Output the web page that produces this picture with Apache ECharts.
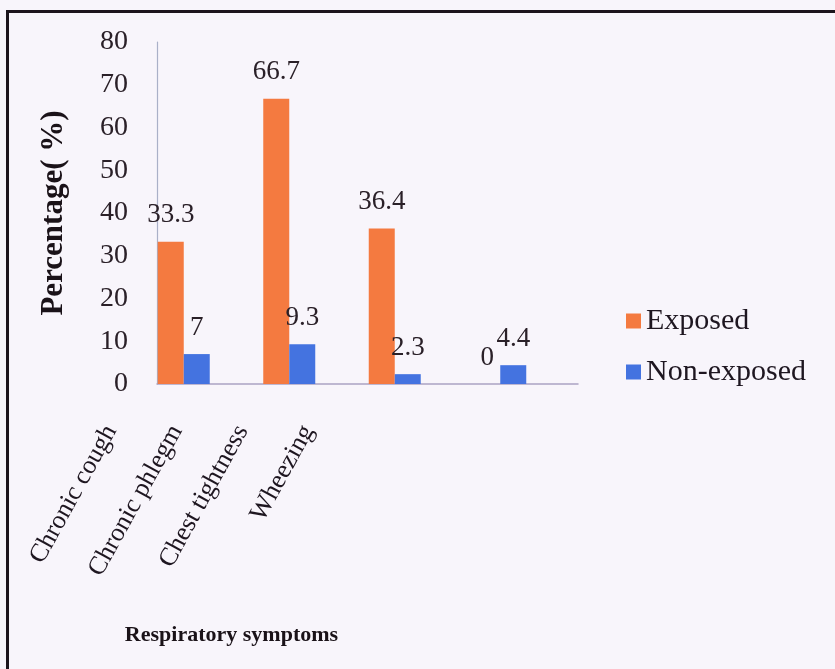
<!DOCTYPE html>
<html>
<head>
<meta charset="utf-8">
<script src="https://cdn.jsdelivr.net/npm/echarts@6/dist/echarts.min.js"></script>
<style>
  html, body { margin: 0; padding: 0; background: #f8f5fb; }
  #main { width: 835px; height: 669px; }
  .frame { position: absolute; left: 6px; top: 10px; width: 840px; height: 680px; border: 3px solid #1c141c; box-sizing: border-box; pointer-events: none; }
</style>
</head>
<body>
<div id="main"></div>
<div class="frame"></div>
<script>
var categories = ['Chronic cough', 'Chronic phlegm', 'Chest tightness', 'Wheezing']
var exposed = [33.3, 66.7, 36.4, 0]
var nonExposed = [7, 9.3, 2.3, 4.4]
var yTicks = [0, 10, 20, 30, 40, 50, 60, 70, 80]

var serif = 'Liberation Serif'
var labelStyle = {
  show: true,
  position: 'top',
  distance: 13,
  color: '#2a2028',
  fontFamily: serif,
  fontSize: 27
}

var chart = echarts.init(document.getElementById('main'))
var option = {
  backgroundColor: '#f8f5fb',
  animation: false,
  legend: {
    orient: 'vertical',
    left: 621,
    top: 301,
    itemWidth: 15,
    itemHeight: 15,
    itemGap: 21,
    icon: 'rect',
    textStyle: { fontFamily: serif, fontSize: 30, color: '#1e1620' },
    data: ['Exposed', 'Non-exposed']
  },
  grid: [
    // bars
    { left: 131, top: 42, width: 422, height: 342 },
    // axis lines and tick labels
    { left: 157, top: 42, width: 421, height: 342 },
    // category names (squeezed as in the scan)
    { left: 78, top: 42, width: 263, height: 342 }
  ],
  xAxis: [
    {
      type: 'category', gridIndex: 0, data: categories,
      axisLine: { show: false }, axisTick: { show: false }, axisLabel: { show: false }
    },
    {
      type: 'category', gridIndex: 1, data: categories,
      axisLine: { show: true, lineStyle: { color: '#aaa3c4', width: 1.5 } },
      axisTick: { show: false }, axisLabel: { show: false }
    },
    {
      type: 'category', gridIndex: 2, data: categories,
      axisLine: { show: false }, axisTick: { show: false },
      axisLabel: {
        rotate: 61, margin: 43, interval: 0,
        fontFamily: serif, fontSize: 26, color: '#1e1620'
      },
      name: 'Respiratory symptoms',
      nameLocation: 'middle',
      nameGap: 240,
      nameTextStyle: { fontFamily: serif, fontWeight: 'bold', fontSize: 22, color: '#1a1218', padding: [0, 0, 0, 44] }
    }
  ],
  yAxis: [
    { type: 'value', gridIndex: 0, min: 0, max: 80, interval: 10, show: false },
    {
      type: 'value', gridIndex: 1, min: 0, max: 80, interval: 10,
      axisLine: { show: true, lineStyle: { color: '#aab0c8', width: 1.2 } },
      axisTick: { show: false },
      splitLine: { show: false },
      axisLabel: {
        margin: 29, fontFamily: serif, fontSize: 28, color: '#2a2028',
        formatter: function (v) { return yTicks.indexOf(v) >= 0 ? String(v) : '' }
      },
      name: 'Percentage( %)',
      nameLocation: 'middle',
      nameGap: 88,
      nameTextStyle: { fontFamily: serif, fontWeight: 'bold', fontSize: 31, color: '#1a1218' }
    },
    { type: 'value', gridIndex: 2, min: 0, max: 80, show: false }
  ],
  series: [
    {
      name: 'Exposed', type: 'bar', xAxisIndex: 0, yAxisIndex: 0,
      data: exposed, barWidth: 26, barGap: '0%',
      itemStyle: { color: '#f47a40' },
      label: labelStyle
    },
    {
      name: 'Non-exposed', type: 'bar', xAxisIndex: 0, yAxisIndex: 0,
      data: nonExposed, barWidth: 26, barGap: '0%',
      itemStyle: { color: '#4473e0' },
      label: labelStyle
    }
  ]
}
chart.setOption(option)
</script>
</body>
</html>
